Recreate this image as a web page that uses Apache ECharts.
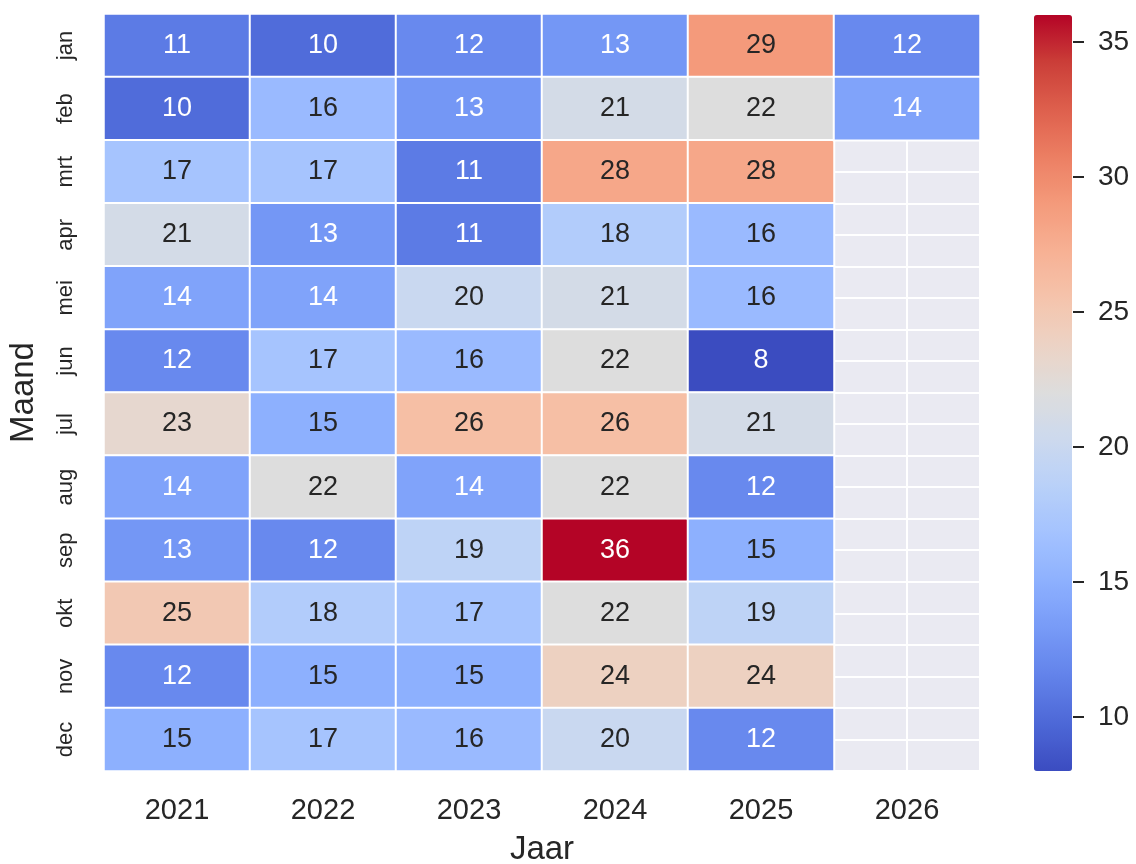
<!DOCTYPE html>
<html>
<head>
<meta charset="utf-8">
<script src="https://cdn.jsdelivr.net/npm/echarts@6/dist/echarts.min.js"></script>
<style>html,body{margin:0;padding:0;background:#fff}#c{width:1136px;height:864px}</style>
</head>
<body>
<div id="c"></div>
<script>
// ---- data ----
const years = ['2021', '2022', '2023', '2024', '2025', '2026'];
const months = ['jan', 'feb', 'mrt', 'apr', 'mei', 'jun', 'jul', 'aug', 'sep', 'okt', 'nov', 'dec'];
const v2021 = [11, 10, 17, 21, 14, 12, 23, 14, 13, 25, 12, 15];
const v2022 = [10, 16, 17, 13, 14, 17, 15, 22, 12, 18, 15, 17];
const v2023 = [12, 13, 11, 11, 20, 16, 26, 14, 19, 17, 15, 16];
const v2024 = [13, 21, 28, 18, 21, 22, 26, 22, 36, 22, 24, 20];
const v2025 = [29, 22, 28, 16, 16, 8, 21, 12, 15, 19, 24, 12];
const v2026 = [12, 14, null, null, null, null, null, null, null, null, null, null];
const colorbarTicks = [10, 15, 20, 25, 30, 35];
const vMin = 8, vMax = 36;
// half-step helper categories for the background grid lines
const xHalf = ['', '', '', '', '', '', '', '', '', '', '', ''];
const yHalf = ['', '', '', '', '', '', '', '', '', '', '', '', '', '', '', '', '', '', '', '', '', '', '', ''];

const coolwarm = ['#3b4cc0', '#4d68d7', '#6282ea', '#779af7', '#8db0fe', '#a3c2ff', '#b8d0f9', '#ccd9ee',
  '#dddddd', '#ecd3c5', '#f5c4ac', '#f7b194', '#f49a7b', '#ec7f63', '#de604d', '#cb3e38', '#b40426'];

const cols = [v2021, v2022, v2023, v2024, v2025, v2026];
const cells = [];
cols.forEach((arr, xi) => {
  arr.forEach((v, yi) => {
    if (v === null) return;
    const light = v <= 14 || v >= 33;
    cells.push({ value: [xi, yi, v], label: { color: light ? '#ffffff' : '#262626' } });
  });
});

const FONT = 'Liberation Sans, Arial, sans-serif';
const chart = echarts.init(document.getElementById('c'), null, { renderer: 'canvas' });
chart.setOption({
  backgroundColor: '#ffffff',
  animation: false,
  textStyle: { fontFamily: FONT },
  grid: [
    { left: 104, top: 14, width: 876, height: 757, show: true, backgroundColor: '#eaeaf2', borderWidth: 0,
      containLabel: false, outerBoundsMode: 'none' },
    { left: 1034, top: 15, width: 38, height: 756, show: false, containLabel: false, outerBoundsMode: 'none' }
  ],
  xAxis: [
    { type: 'category', data: years, gridIndex: 0, position: 'bottom',
      axisLine: { show: false }, axisTick: { show: false }, splitLine: { show: false },
      axisLabel: { fontSize: 29, color: '#262626', margin: 25, fontFamily: FONT },
      name: 'Jaar', nameLocation: 'middle', nameGap: 62,
      nameTextStyle: { fontSize: 33, color: '#262626', fontFamily: FONT } },
    { type: 'category', data: xHalf, gridIndex: 0, show: true,
      axisLine: { show: false }, axisTick: { show: false }, axisLabel: { show: false },
      splitLine: { show: true, interval: (i) => i % 2 === 1, lineStyle: { color: '#ffffff', width: 2 } } },
    { type: 'value', gridIndex: 1, show: false, min: 0, max: 1 }
  ],
  yAxis: [
    { type: 'category', data: months, gridIndex: 0, inverse: true,
      axisLine: { show: false }, axisTick: { show: false }, splitLine: { show: false },
      axisLabel: { fontSize: 22, color: '#262626', rotate: 90, margin: 27, fontFamily: FONT },
      name: 'Maand', nameLocation: 'middle', nameGap: 64, nameRotate: 90,
      nameTextStyle: { fontSize: 33, color: '#262626', fontFamily: FONT } },
    { type: 'category', data: yHalf, gridIndex: 0, show: true,
      axisLine: { show: false }, axisTick: { show: false }, axisLabel: { show: false },
      splitLine: { show: true, lineStyle: { color: '#ffffff', width: 2 } } },
    { type: 'value', gridIndex: 1, min: vMin, max: vMax, position: 'right',
      axisLine: { show: false }, splitLine: { show: false },
      axisTick: { show: false },
      axisLabel: { show: true, customValues: colorbarTicks, margin: 1, fontFamily: FONT,
        fontSize: 28, color: '#262626',
        formatter: (v) => '{t|}{s|}' + v,
        rich: {
          t: { width: 11, height: 2, backgroundColor: '#262626', verticalAlign: 'middle' },
          s: { width: 14 }
        } } }
  ],
  visualMap: {
    type: 'continuous', min: vMin, max: vMax, seriesIndex: 0,
    calculable: false, orient: 'vertical', left: 1034, top: 15,
    itemWidth: 38, itemHeight: 756, padding: 0, text: null, showLabel: false,
    inRange: { color: coolwarm }
  },
  series: [{
    type: 'heatmap', xAxisIndex: 0, yAxisIndex: 0, data: cells,
    itemStyle: { borderColor: '#ffffff', borderWidth: 2 },
    label: { show: true, fontSize: 27, fontFamily: FONT, formatter: (p) => String(p.value[2]) },
    emphasis: { disabled: true }
  }]
});
</script>
</body>
</html>
